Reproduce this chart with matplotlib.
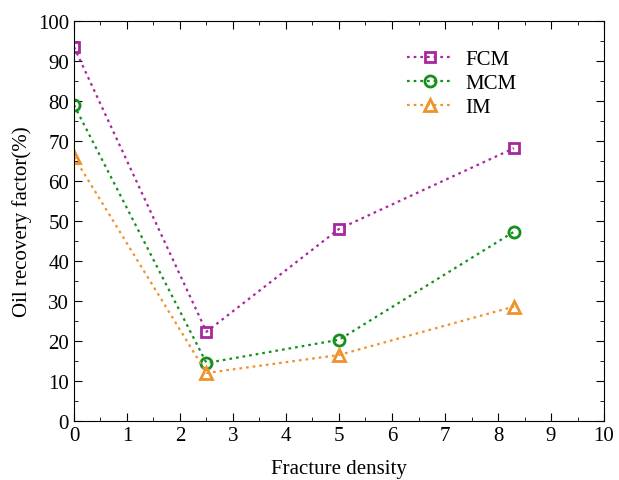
import matplotlib.pyplot as plt
from matplotlib.ticker import MultipleLocator

plt.rcParams['font.family'] = ['Liberation Serif', 'DejaVu Serif']

density = [0, 2.5, 5, 8.3]
fcm = [93.5, 22.3, 48.0, 68.2]
mcm = [79.0, 14.5, 20.3, 47.3]
im = [66.0, 12.0, 16.5, 28.6]

fig = plt.figure(figsize=(6.19, 4.81), dpi=100)
ax = fig.add_axes([0.1195, 0.1227, 0.8563, 0.8316])

dots = (0, (1.2, 1.8))
ax.plot(density, fcm, color='#A8279C', ls=dots, marker='s', markersize=7, mfc='none',
        mew=2, lw=1.6, label='FCM')
ax.plot(density, mcm, color='#16901C', ls=dots, marker='o', markersize=8, mfc='none',
        mew=2, lw=1.6, label='MCM')
ax.plot(density, im, color='#F0922A', ls=dots, marker='^', markersize=9, mfc='none',
        mew=2, lw=1.6, label='IM')

ax.set_xlim(0, 10)
ax.set_ylim(0, 100)
ax.xaxis.set_major_locator(MultipleLocator(1))
ax.xaxis.set_minor_locator(MultipleLocator(0.5))
ax.yaxis.set_major_locator(MultipleLocator(10))
ax.yaxis.set_minor_locator(MultipleLocator(5))
ax.tick_params(which='both', direction='in', top=True, right=True, labelsize=15)
ax.tick_params(which='major', length=6)
ax.tick_params(which='minor', length=3)
ax.set_xlabel('Fracture density', fontsize=15, labelpad=10.5)
ax.set_ylabel('Oil recovery factor(%)', fontsize=15)

ax.legend(loc='upper right', bbox_to_anchor=(0.87, 0.975), frameon=False, fontsize=15,
          handlelength=2.2, labelspacing=0.2, handletextpad=0.6)

fig.savefig('out.png', dpi=100)
